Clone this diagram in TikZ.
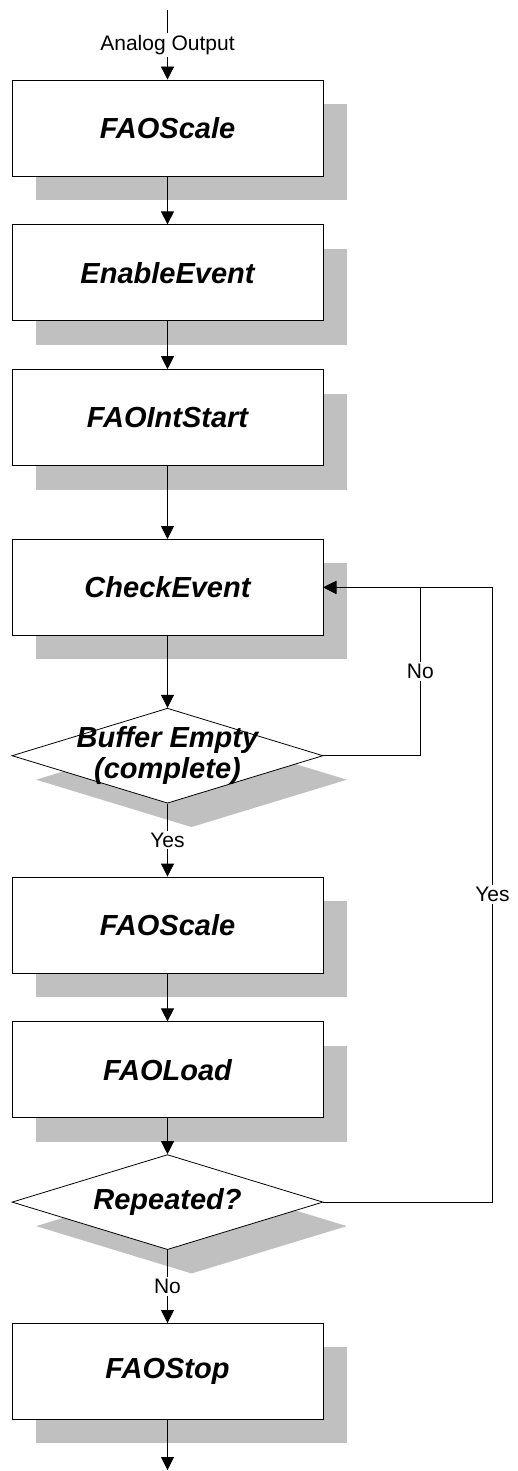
\documentclass[tikz,border=0pt]{standalone}
\usepackage{fontspec}
\setmainfont{Liberation Sans}
\usetikzlibrary{shapes.geometric, positioning, shadows, arrows.meta}
\definecolor{shadowgray}{RGB}{192,192,192}

\begin{document}
\begin{tikzpicture}[
            node distance=48pt,
            box/.style={draw, rectangle, fill=white, line width=0.8pt, minimum width=311pt, minimum height=96pt,
                font=\fontsize{29}{32}\selectfont\bfseries\itshape,
                drop shadow={shadow xshift=24pt, shadow yshift=-24pt, fill=shadowgray, opacity=1}},
            decision/.style={draw, diamond, fill=white, line width=0.8pt, inner sep=0pt, minimum width=311pt, minimum height=95pt,
                drop shadow={shadow xshift=24pt, shadow yshift=-24pt, fill=shadowgray, opacity=1}},
            dtext/.style={font=\fontsize{29}{31}\selectfont\bfseries\itshape, align=center},
            lbl/.style={fill=white, inner sep=2pt, font=\fontsize{21}{23}\selectfont},
            flow/.style={line width=0.8pt, -{Triangle[length=13pt, width=13pt]}}
            ]
            \useasboundingbox (0,0) rectangle (517pt,-1471pt);

            % coluna principal
            \node[box] (scale) at (167.5pt,-128pt) {FAOScale};
            \node[box, below=of scale] (enable) {EnableEvent};
            \node[box, below=of enable] (intstart) {FAOIntStart};
            \node[box, below=73pt of intstart] (check) {CheckEvent};
            \node[decision, below=72pt of check, label={[name=emptytxt, dtext]center:Buffer Empty\\(complete)}] (empty) {};
            \node[box, below=73pt of empty] (scale2) {FAOScale};
            \node[box, below=of scale2] (load) {FAOLoad};
            \node[decision, below=36pt of load, label={[name=againtxt, dtext]center:Repeated?}] (again) {};
            \node[box, below=73pt of again] (stop) {FAOStop};

            % entrada e saida
            \coordinate (start) at (167.5pt,-10pt);
            \coordinate (finish) at (167.5pt,-1470pt);

            % setas
            \draw[flow] (start) -- node[lbl] (aout) {Analog Output} (scale);
            \draw[flow] (scale) -- (enable);
            \draw[flow] (enable) -- (intstart);
            \draw[flow] (intstart) -- (check);
            \draw[flow] (check) -- (empty);
            \draw[flow] (empty) -- node[lbl] (yes1) {Yes} (scale2);
            \draw[flow] (scale2) -- (load);
            \draw[flow] (load) -- (again);
            \draw[flow] (again) -- node[lbl] (no2) {No} (stop);
            \draw[flow] (stop) -- (finish);

            % lacos de volta
            \draw[flow] (empty.east) -- ++(97pt,0) |- node[lbl, pos=0.25] (no1) {No} (check.east);
            \draw[flow] (again.east) -- ++(169pt,0) |- node[lbl, pos=0.25] (yes2) {Yes} (check.east);

        \end{tikzpicture}
\end{document}
